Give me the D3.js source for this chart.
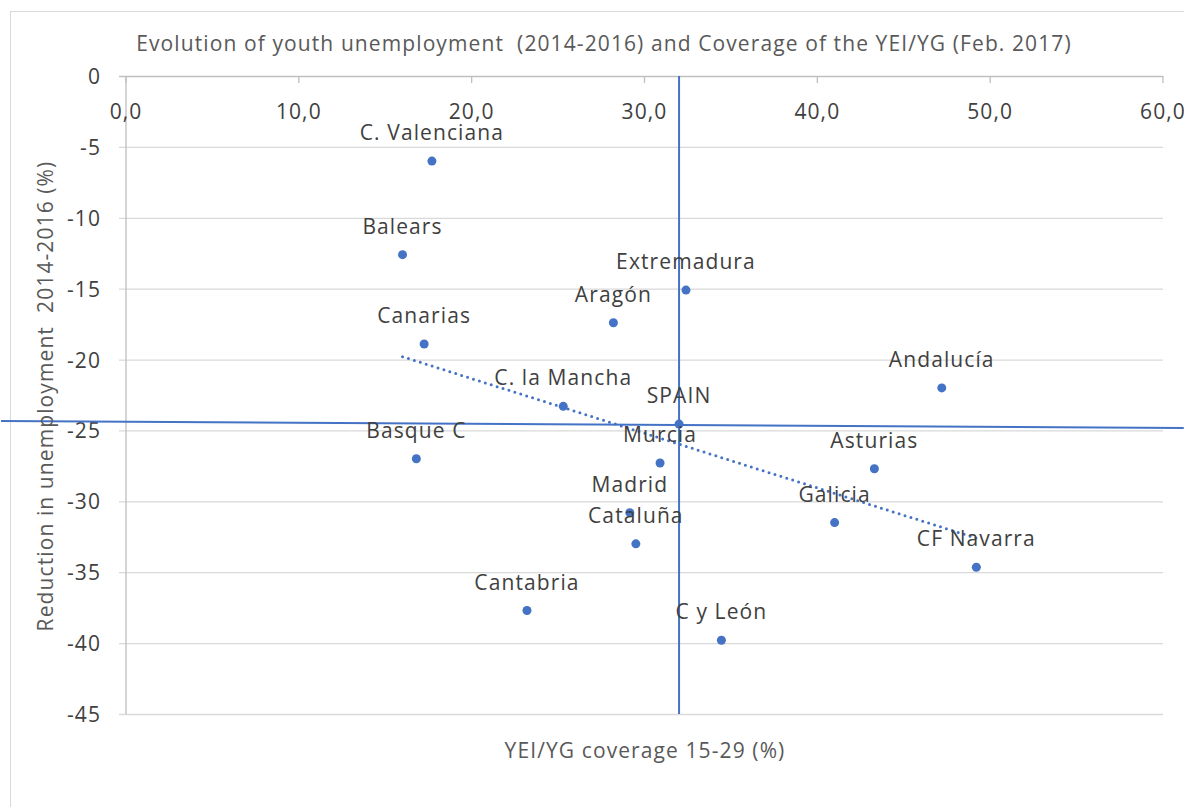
<!DOCTYPE html>
<meta charset="utf-8">
<script src="https://d3js.org/d3.v7.min.js"></script>
<style>
  body { margin: 0; background: #fff; }
  text { font-family: "Open Sans", "Noto Sans", sans-serif; white-space: pre; letter-spacing: 1.1px; }
</style>
<div id="chart"></div>
<script>
// regions and their values (x = coverage %, y = reduction %)
const regions = ["C. Valenciana", "Balears", "Extremadura", "Aragón", "Canarias", "Andalucía",
                 "C. la Mancha", "SPAIN", "Basque C", "Murcia", "Asturias", "Madrid", "Galicia",
                 "Cataluña", "CF Navarra", "Cantabria", "C y León"]
const coverage = [17.7, 16.0, 32.4, 28.2, 17.25, 47.2, 25.3, 32.0, 16.8, 30.9, 43.3, 29.15, 41.0, 29.5, 49.2, 23.2, 34.45]
const reduction = [-6.0, -12.6, -15.1, -17.4, -18.9, -22.0, -23.3, -24.55, -27.0, -27.3, -27.7, -30.8, -31.5, -33.0, -34.65, -37.7, -39.8]

const xTicks = [0, 10, 20, 30, 40, 50, 60]
const yTicks = [0, -5, -10, -15, -20, -25, -30, -35, -40, -45]

// reference lines through SPAIN and the linear trend
const vLine = [[32.0, 0], [32.0, -45]]
const hLine = [[-7.23, -24.33], [61.2, -24.82]]
const trend = [[16.0, -19.8], [49.2, -32.6]]

const W = 1184, H = 807
const fs = 21
const svg = d3.select("#chart").append("svg").attr("width", W).attr("height", H)

svg.append("rect")
    .attr("x", 10.5).attr("y", 11.5).attr("width", 1200).attr("height", 820)
    .attr("fill", "none").attr("stroke", "#d9d9d9")

const x = d3.scaleLinear().domain([0, 60]).range([126, 1163])
const y = d3.scaleLinear().domain([-45, 0]).range([714, 76])

// horizontal gridlines
svg.append("g").selectAll("line").data(yTicks).join("line")
    .attr("x1", 119).attr("x2", x(60))
    .attr("y1", d => y(d) + 0.5).attr("y2", d => y(d) + 0.5)
    .attr("stroke", d => d === 0 ? "#bfbfbf" : "#d9d9d9").attr("stroke-width", 1.3)

// left axis line
svg.append("line")
    .attr("x1", x(0)).attr("x2", x(0)).attr("y1", y(0)).attr("y2", y(-45))
    .attr("stroke", "#bfbfbf").attr("stroke-width", 1.3)

// top axis ticks
svg.append("g").selectAll("line").data(xTicks).join("line")
    .attr("x1", d => x(d)).attr("x2", d => x(d))
    .attr("y1", y(0)).attr("y2", y(0) + 7)
    .attr("stroke", "#bfbfbf").attr("stroke-width", 1.3)

svg.append("g").selectAll("text").data(xTicks).join("text")
    .attr("x", d => x(d)).attr("y", y(0) + 43)
    .attr("text-anchor", "middle")
    .attr("font-size", fs).attr("fill", "#404040")
    .text(d => d.toFixed(1).replace(".", ","))

svg.append("g").selectAll("text").data(yTicks).join("text")
    .attr("x", 101).attr("y", d => y(d) + 8)
    .attr("text-anchor", "end")
    .attr("font-size", fs).attr("fill", "#404040")
    .text(d => d)

const line = d3.line().x(d => x(d[0])).y(d => y(d[1]))

svg.append("path").attr("d", line(vLine))
    .attr("stroke", "#4472c4").attr("stroke-width", 2).attr("fill", "none")
svg.append("path").attr("d", line(hLine))
    .attr("stroke", "#4472c4").attr("stroke-width", 2).attr("fill", "none")
svg.append("path").attr("d", line(trend))
    .attr("stroke", "#4472c4").attr("stroke-width", 3).attr("fill", "none")
    .attr("stroke-linecap", "round").attr("stroke-dasharray", "0 6.2")

const pts = regions.map((r, i) => ({name: r, cx: coverage[i], cy: reduction[i]}))

svg.append("g").selectAll("circle").data(pts).join("circle")
    .attr("cx", d => x(d.cx)).attr("cy", d => y(d.cy)).attr("r", 4.5)
    .attr("fill", "#4472c4")

svg.append("g").selectAll("text").data(pts).join("text")
    .attr("x", d => x(d.cx)).attr("y", d => y(d.cy) - 21)
    .attr("text-anchor", "middle")
    .attr("font-size", fs).attr("fill", "#404040")
    .text(d => d.name)

// titles
svg.append("text")
    .attr("x", 604).attr("y", 51).attr("text-anchor", "middle")
    .attr("font-size", fs).attr("fill", "#595959")
    .text("Evolution of youth unemployment  (2014-2016) and Coverage of the YEI/YG (Feb. 2017)")

svg.append("text")
    .attr("transform", "translate(53, 396) rotate(-90)")
    .attr("text-anchor", "middle")
    .attr("font-size", fs).attr("fill", "#595959")
    .text("Reduction in unemployment  2014-2016 (%)")

svg.append("text")
    .attr("x", 645).attr("y", 758).attr("text-anchor", "middle")
    .attr("font-size", fs).attr("fill", "#595959")
    .text("YEI/YG coverage 15-29 (%)")
</script>
